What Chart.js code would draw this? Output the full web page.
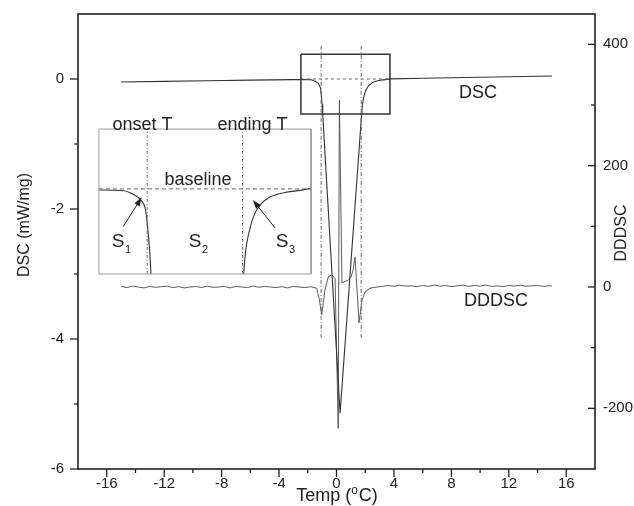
<!DOCTYPE html>
<html>
<head>
<meta charset="utf-8">
<script src="https://cdn.jsdelivr.net/npm/chart.js@4.4.1/dist/chart.umd.min.js"></script>
<style>
  html, body { margin: 0; padding: 0; background: #fff; }
  canvas { display: block; }
</style>
</head>
<body>
<canvas id="dscChart" width="634" height="506"></canvas>
<script>
// DSC heat flow (mW/mg) vs temperature (°C)
const dscTemp = [-15, -12, -9, -6, -3, -2.46, -1.76, -1.47, -1.27, -1.12, -1.06, -1.0, -0.96, 0.25,
  1.75, 1.8, 1.9, 2.04, 2.24, 2.53, 2.92, 3.41, 3.73, 6, 9, 12, 15];
const dscValue = [-0.046, -0.037, -0.028, -0.018, -0.009, -0.007, -0.012, -0.036, -0.068, -0.132, -0.238, -0.387, -0.54, -5.14,
  -0.54, -0.406, -0.28, -0.174, -0.1, -0.05, -0.024, -0.009, 0.002, 0.012, 0.024, 0.035, 0.046];

// third derivative of the DSC signal (right axis)
const dddscTemp = [
  -15, -14.6, -14.2, -13.8, -13.4, -13, -12.6, -12.2, -11.8, -11.4, -11, -10.6, -10.2, -9.8, -9.4, -9,
  -8.6, -8.2, -7.8, -7.4, -7, -6.6, -6.2, -5.8, -5.4, -5, -4.6, -4.2, -3.8, -3.4, -3, -2.6, -2.2, -1.8,
  -1.38, -1.2, -1.03, -0.8, -0.57, -0.33, -0.1, 0.12, 0.2, 0.38, 0.8, 1.0, 1.15, 1.29, 1.43, 1.57, 1.78, 1.99, 2.33, 2.82,
  3.2, 3.6, 4, 4.4, 4.8, 5.2, 5.6, 6, 6.4, 6.8, 7.2, 7.6, 8, 8.4, 8.8, 9.2, 9.6, 10, 10.4, 10.8,
  11.2, 11.6, 12, 12.4, 12.8, 13.2, 13.6, 14, 14.4, 14.8, 15
];
const dddscValue = [
  1, -1, 1.5, 0, -1.5, 1, -0.5, 0.5, 1.5, -1, 0.5, -1.5, 0, 1, -1, 1.5,
  -0.5, 0, 1, -1.5, 1, 0, -1, 1.5, -0.5, 1, 0, -1, 0.5, -1.5, 1, 0, -1, 0.5,
  -2, -20, -46, -5, 17, 20, 14, -233, 308, 7, 11, 16, 27, 49, -5, -59, -22, -8, -2, 0,
  1, 2.5, 1, 3, 1.5, 2, 0.5, 2.5, 1, 3, 1.5, 2.5, 0.5, 2, 3, 1, 2.5, 1.5, 3, 1,
  2, 0.5, 2.5, 1.5, 3, 1, 2, 2.5, 1, 2, 1.5
];

// onset / ending temperatures and the span of their marker lines
const markTemp = [-1.07, 1.72];
const markSpan = [0.51, -3.98];
const baselineLevel = 0;

// zoomed window on the DSC peak, and where its enlargement sits on the main axes
const zoomTemp = [-2.48, 3.72];
const zoomLevel = [-0.54, 0.38];
const insetTemp = [-16.54, -1.77];
const insetLevel = [-3.0, -0.77];

// axis ticks
const xMajor = [-16, -12, -8, -4, 0, 4, 8, 12, 16];
const xMinor = [-14, -10, -6, -2, 2, 6, 10, 14];
const yMajor = [0, -2, -4, -6];
const yMinor = [-1, -3, -5];
const y2Major = [400, 200, 0, -200];
const y2Minor = [300, 100, -100];
const xRange = [-18, 18];
const yRange = [-6, 1];
const y2Range = [-300, 450];

const FONT = '"Liberation Sans", Arial, sans-serif';
Chart.defaults.font.family = FONT;
Chart.defaults.color = '#222';

const pts = (xs, ys) => xs.map((x, i) => ({ x: x, y: ys[i] }));
const rect = (xs, ys) => [
  { x: xs[0], y: ys[1] }, { x: xs[1], y: ys[1] }, { x: xs[1], y: ys[0] }, { x: xs[0], y: ys[0] }, { x: xs[0], y: ys[1] }
];

// inset scales: map the zoom window onto the inset rectangle
function insetBounds(full, place, zoom) {
  const k = (zoom[1] - zoom[0]) / (place[1] - place[0]);
  return [zoom[0] + (full[0] - place[0]) * k, zoom[0] + (full[1] - place[0]) * k];
}
const xiBounds = insetBounds(xRange, insetTemp, zoomTemp);
const yiBounds = insetBounds(yRange, insetLevel, zoomLevel);

const datasets = [
  // inset frame
  { data: rect(insetTemp, insetLevel), borderColor: '#9a9a9a', borderWidth: 1, xAxisID: 'x', yAxisID: 'y' },
  // inset baseline
  { data: [{ x: zoomTemp[0], y: baselineLevel }, { x: zoomTemp[1], y: baselineLevel }],
    borderColor: '#555', borderWidth: 0.9, borderDash: [4, 3], xAxisID: 'xi', yAxisID: 'yi' },
  // inset onset / ending lines
  ...markTemp.map(t => ({ data: [{ x: t, y: zoomLevel[0] }, { x: t, y: zoomLevel[1] }],
    borderColor: '#666', borderWidth: 0.9, borderDash: [3, 2, 1, 2], xAxisID: 'xi', yAxisID: 'yi' })),
  // enlarged DSC
  { data: pts(dscTemp, dscValue), borderColor: '#333', borderWidth: 1.1, cubicInterpolationMode: 'monotone',
    xAxisID: 'xi', yAxisID: 'yi', insetClip: true },
  // zoom window on the main plot
  { data: rect(zoomTemp, zoomLevel), borderColor: '#333', borderWidth: 1.5, xAxisID: 'x', yAxisID: 'y' },
  { data: [{ x: zoomTemp[0], y: baselineLevel }, { x: zoomTemp[1], y: baselineLevel }],
    borderColor: '#555', borderWidth: 0.9, borderDash: [3, 3], xAxisID: 'x', yAxisID: 'y' },
  ...markTemp.map(t => ({ data: [{ x: t, y: markSpan[0] }, { x: t, y: markSpan[1] }],
    borderColor: '#666', borderWidth: 1, borderDash: [4, 2, 1, 2], xAxisID: 'x', yAxisID: 'y' })),
  // DSC
  { label: 'DSC', data: pts(dscTemp, dscValue), borderColor: '#333', borderWidth: 1.1, xAxisID: 'x', yAxisID: 'y' },
  // DDDSC
  { label: 'DDDSC', data: pts(dddscTemp, dddscValue), borderColor: '#4a4a4a', borderWidth: 0.9, xAxisID: 'x', yAxisID: 'y2' }
];

// clip the enlarged curve to the inset frame
const insetClip = {
  id: 'insetClip',
  beforeDatasetDraw(chart, args) {
    if (!chart.data.datasets[args.index].insetClip) return;
    const { x, y } = chart.scales;
    const l = x.getPixelForValue(insetTemp[0]), r = x.getPixelForValue(insetTemp[1]);
    const t = y.getPixelForValue(insetLevel[1]), b = y.getPixelForValue(insetLevel[0]);
    chart.ctx.save();
    chart.ctx.beginPath();
    chart.ctx.rect(l, t, r - l, b - t);
    chart.ctx.clip();
  },
  afterDatasetDraw(chart, args) {
    if (chart.data.datasets[args.index].insetClip) chart.ctx.restore();
  }
};

// frame, tick marks, axis titles
const axisMarks = {
  id: 'axisMarks',
  afterDraw(chart) {
    const { ctx, chartArea: a, scales } = chart;
    ctx.save();
    ctx.strokeStyle = '#222';
    ctx.lineWidth = 1.6;
    ctx.strokeRect(a.left, a.top, a.right - a.left, a.bottom - a.top);
    ctx.lineWidth = 1.3;
    const seg = (x1, y1, x2, y2) => { ctx.beginPath(); ctx.moveTo(x1, y1); ctx.lineTo(x2, y2); ctx.stroke(); };
    xMajor.forEach(v => { const p = scales.x.getPixelForValue(v); seg(p, a.bottom, p, a.bottom + 8); });
    xMinor.forEach(v => { const p = scales.x.getPixelForValue(v); seg(p, a.bottom, p, a.bottom + 4); });
    yMajor.forEach(v => { const p = scales.y.getPixelForValue(v); seg(a.left - 8, p, a.left, p); });
    yMinor.forEach(v => { const p = scales.y.getPixelForValue(v); seg(a.left - 4, p, a.left, p); });
    y2Major.forEach(v => { const p = scales.y2.getPixelForValue(v); seg(a.right - 7, p, a.right, p); });
    y2Minor.forEach(v => { const p = scales.y2.getPixelForValue(v); seg(a.right - 4, p, a.right, p); });

    ctx.fillStyle = '#222';
    ctx.textAlign = 'center';
    ctx.textBaseline = 'middle';
    ctx.font = '16px ' + FONT;
    ctx.save();
    ctx.translate(a.left - 53, 225);
    ctx.rotate(-Math.PI / 2);
    ctx.fillText('DSC (mW/mg)', 0, 0);
    ctx.restore();
    ctx.save();
    ctx.translate(a.right + 27, 233);
    ctx.rotate(-Math.PI / 2);
    ctx.fillText('DDDSC', 0, 0);
    ctx.restore();

    // Temp (°C) with a raised "o"
    const big = '18px ' + FONT, small = '12px ' + FONT;
    ctx.textAlign = 'left';
    ctx.textBaseline = 'alphabetic';
    ctx.font = big;
    const w1 = ctx.measureText('Temp (').width, w3 = ctx.measureText('C)').width;
    ctx.font = small;
    const w2 = ctx.measureText('o').width + 1;
    const sx = 337 - (w1 + w2 + w3) / 2;
    const by = 501;
    ctx.font = big; ctx.fillText('Temp (', sx, by);
    ctx.font = small; ctx.fillText('o', sx + w1, by - 7);
    ctx.font = big; ctx.fillText('C)', sx + w1 + w2, by);
    ctx.restore();
  }
};

// curve names and inset annotations
const labelText = ['DSC', 'DDDSC', 'onset T', 'ending T', 'baseline'];
const labelTemp = [9.86, 11.1, -13.51, -5.85, -9.64];
const labelLevel = [-0.215, -3.415, -0.71, -0.71, -1.55];
const partTemp = [-15.21, -9.85, -3.79];
const partLevel = -2.51;
const arrowFrom = [[-14.85, -2.27], [-4.28, -2.29]];
const arrowTo = [[-13.56, -1.82], [-5.83, -1.86]];

const annotations = {
  id: 'annotations',
  afterDatasetsDraw(chart) {
    const { ctx, scales: { x, y } } = chart;
    ctx.save();
    ctx.fillStyle = '#222';
    ctx.strokeStyle = '#222';
    ctx.textAlign = 'center';
    ctx.textBaseline = 'middle';
    ctx.font = '18px ' + FONT;
    labelText.forEach((t, i) => ctx.fillText(t, x.getPixelForValue(labelTemp[i]), y.getPixelForValue(labelLevel[i])));

    partTemp.forEach((t, i) => {
      const px = x.getPixelForValue(t), py = y.getPixelForValue(partLevel);
      ctx.font = '19px ' + FONT;
      ctx.fillText('S', px, py);
      ctx.font = '11px ' + FONT;
      ctx.fillText(String(i + 1), px + 10, py + 8);
    });

    ctx.lineWidth = 1;
    arrowFrom.forEach((f, i) => {
      const x1 = x.getPixelForValue(f[0]), y1 = y.getPixelForValue(f[1]);
      const x2 = x.getPixelForValue(arrowTo[i][0]), y2 = y.getPixelForValue(arrowTo[i][1]);
      const ang = Math.atan2(y2 - y1, x2 - x1);
      ctx.beginPath(); ctx.moveTo(x1, y1); ctx.lineTo(x2 - 6 * Math.cos(ang), y2 - 6 * Math.sin(ang)); ctx.stroke();
      ctx.beginPath();
      ctx.moveTo(x2, y2);
      ctx.lineTo(x2 - 9 * Math.cos(ang) + 3 * Math.sin(ang), y2 - 9 * Math.sin(ang) - 3 * Math.cos(ang));
      ctx.lineTo(x2 - 9 * Math.cos(ang) - 3 * Math.sin(ang), y2 - 9 * Math.sin(ang) + 3 * Math.cos(ang));
      ctx.closePath(); ctx.fill();
    });
    ctx.restore();
  }
};

const tickFont = { size: 15, family: FONT };
const hidden = { display: false, drawTicks: false };
const noEdgePadding = s => { s.paddingTop = 0; s.paddingBottom = 0; s.paddingLeft = 0; s.paddingRight = 0; };

new Chart(document.getElementById('dscChart'), {
  type: 'line',
  data: { datasets: datasets },
  options: {
    responsive: false,
    animation: false,
    devicePixelRatio: 1,
    layout: { padding: { top: 14, left: 0, right: 0, bottom: 0 } },
    elements: { point: { radius: 0 }, line: { tension: 0 } },
    plugins: { legend: { display: false }, tooltip: { enabled: false } },
    scales: {
      x: {
        type: 'linear', position: 'bottom', min: xRange[0], max: xRange[1],
        grid: hidden, border: { display: false },
        ticks: { font: tickFont, color: '#222', padding: 6, maxRotation: 0, autoSkip: false },
        afterBuildTicks: s => { s.ticks = xMajor.map(v => ({ value: v })); },
        afterFit: s => { noEdgePadding(s); s.height = 37; }
      },
      y: {
        type: 'linear', position: 'left', min: yRange[0], max: yRange[1],
        grid: hidden, border: { display: false },
        ticks: { font: tickFont, color: '#222', padding: 14 },
        afterBuildTicks: s => { s.ticks = yMajor.map(v => ({ value: v })); },
        afterFit: s => { noEdgePadding(s); s.width = 78; }
      },
      y2: {
        type: 'linear', position: 'right', min: y2Range[0], max: y2Range[1],
        grid: hidden, border: { display: false },
        ticks: { font: tickFont, color: '#222', padding: 8 },
        afterBuildTicks: s => { s.ticks = y2Major.map(v => ({ value: v })); },
        afterFit: s => { noEdgePadding(s); s.width = 39; }
      },
      xi: { type: 'linear', display: false, min: xiBounds[0], max: xiBounds[1] },
      yi: { type: 'linear', display: false, min: yiBounds[0], max: yiBounds[1] }
    }
  },
  plugins: [insetClip, annotations, axisMarks]
});
</script>
</body>
</html>
